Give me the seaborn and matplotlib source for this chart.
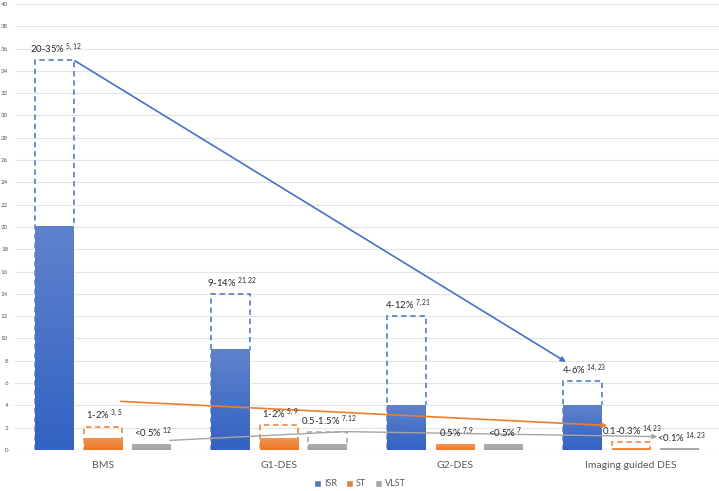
import numpy as np
import pandas as pd
import matplotlib
matplotlib.use("Agg")
import matplotlib.pyplot as plt
from matplotlib.colors import LinearSegmentedColormap
import seaborn as sns

groups = ["BMS", "G1-DES", "G2-DES", "Imaging guided DES"]
measures = ["ISR", "ST", "VLST"]

isr_low = [20, 9, 4, 4]
isr_high = [35, 14, 12, 6.2]
st_low = [1, 1, 0.5, 0.1]
st_high = [2.1, 2.2, np.nan, 0.7]
vlst_low = [0.5, 0.5, 0.5, 0.1]
vlst_high = [np.nan, 1.6, np.nan, np.nan]

isr_text = ["20-35%", "9-14%", "4-12%", "4-6%"]
isr_refs = ["5,12", "21,22", "7,21", "14,23"]
st_text = ["1-2%", "1-2%", "0.5%", "0.1-0.3%"]
st_refs = ["3,5", "5,9", "7,9", "14,23"]
vlst_text = ["<0.5%", "0.5-1.5%", "<0.5%", "<0.1%"]
vlst_refs = ["12", "7,12", "7", "14,23"]

# trend arrows (x in category units, y in %)
isr_trend = [(-0.16, 34.9), (2.63, 7.9)]
st_trend = [(0.10, 4.36), (2.865, 2.2)]
vlst_trend = [(0.38, 0.86), (1.37, 1.65), (3.15, 1.2)]

colors = {"ISR": "#4472C4", "ST": "#ED7D31", "VLST": "#A5A5A5"}
grad = {"ISR": ("#3262C2", "#5F82CD"),
        "ST": ("#EE7726", "#F2954F"),
        "VLST": ("#A3A3A3", "#ADADAD")}

df = pd.DataFrame({
    "group": groups * 3,
    "measure": np.repeat(measures, 4),
    "low": isr_low + st_low + vlst_low,
    "high": isr_high + st_high + vlst_high,
})

sns.set_style("white")
plt.rcParams["font.family"] = ["Lato", "DejaVu Sans"]
plt.rcParams["mathtext.fontset"] = "custom"
plt.rcParams["mathtext.rm"] = "Lato"
plt.rcParams["mathtext.it"] = "Lato"

fig = plt.figure(figsize=(7.19, 4.91), dpi=100)
ax = fig.add_axes([0.021, 0.0835, 0.979, 0.9085])

# dashed range boxes
sns.barplot(data=df[df["high"].notna()], x="group", y="high", hue="measure",
            order=groups, hue_order=measures, palette=colors, fill=False,
            width=0.825, gap=0.2, linestyle=(0, (3.5, 2.5)), linewidth=1.1,
            errorbar=None, legend=False, ax=ax, zorder=2)

# solid bars
sns.barplot(data=df, x="group", y="low", hue="measure", order=groups,
            hue_order=measures, palette=colors, width=0.825, gap=0.2,
            errorbar=None, ax=ax, zorder=3)

# vertical gradient inside solid bars
solid = ax.containers[-3:]
for m, cont in zip(measures, solid):
    cmap = LinearSegmentedColormap.from_list(m, grad[m])
    for p in cont.patches:
        x0, y0 = p.get_x(), p.get_y()
        w, h = p.get_width(), p.get_height()
        ax.imshow(np.linspace(0, 1, 64).reshape(-1, 1), cmap=cmap, aspect="auto",
                  origin="lower", extent=(x0, x0 + w, y0, y0 + h), zorder=3.5)

# labels
highs = [isr_high, st_high, vlst_high]
lows = [isr_low, st_low, vlst_low]
texts = [isr_text, st_text, vlst_text]
refs = [isr_refs, st_refs, vlst_refs]
for k, cont in enumerate(solid):
    for i, p in enumerate(cont.patches):
        top = np.nanmax([lows[k][i], highs[k][i]])
        ax.annotate(f"{texts[k][i]} $^{{{refs[k][i]}}}$",
                    (p.get_x() + p.get_width() / 2, top),
                    xytext=(1, 3), textcoords="offset points",
                    ha="center", va="bottom", fontsize=6.8, color="#262626",
                    zorder=6)

# trend arrows
def trend(points, color, lw):
    xs, ys = zip(*points)
    if len(points) > 2:
        ax.plot(xs[:-1], ys[:-1], color=color, lw=lw, zorder=5)
    ax.annotate("", xy=points[-1], xytext=points[-2],
                arrowprops=dict(arrowstyle="-|>", color=color, lw=lw,
                                mutation_scale=7, shrinkA=0, shrinkB=0),
                zorder=5)

trend(isr_trend, "#4472C4", 1.2)
trend(st_trend, "#ED7D31", 1.2)
trend(vlst_trend, "#A5A5A5", 1.0)

ax.set_xlim(-0.5, 3.5)
ax.set_ylim(0, 40)
ax.set_yticks(range(0, 41, 2))
ax.grid(axis="y", color="#E4E4E4", lw=0.8, zorder=0)
ax.set_axisbelow(True)
for s in ax.spines.values():
    s.set_visible(False)
ax.axhline(0, color="#D9D9D9", lw=0.8, zorder=1)
ax.tick_params(axis="y", length=0, pad=5, labelsize=4.5, labelcolor="#595959")
ax.tick_params(axis="x", length=0, pad=8, labelsize=7.5, labelcolor="#595959")
ax.set_xlabel("")
ax.set_ylabel("")

sns.move_legend(ax, "center", bbox_to_anchor=(0.49, -0.076), ncol=3,
                frameon=False, title=None, fontsize=6.5, handlelength=0.8,
                handleheight=0.8, handletextpad=0.3, columnspacing=1.0)
for t in ax.get_legend().get_texts():
    t.set_color("#595959")

fig.savefig("out.png", dpi=100)
